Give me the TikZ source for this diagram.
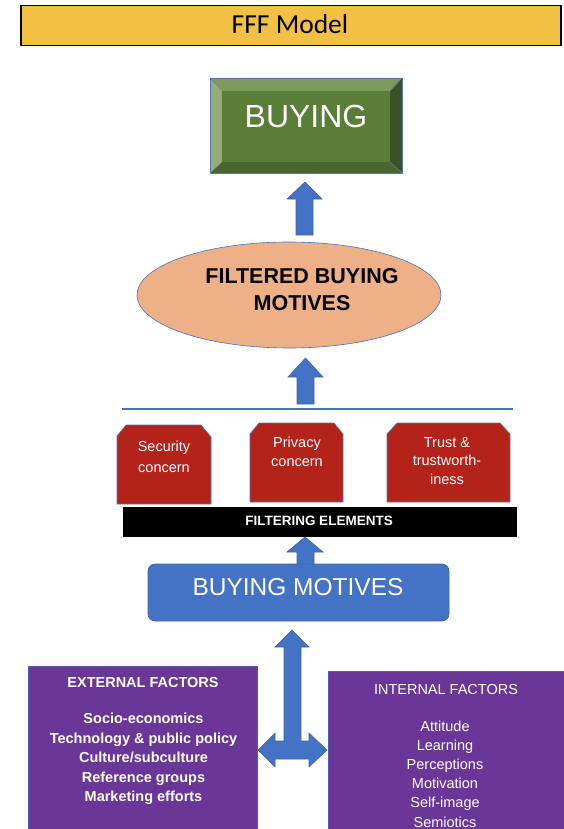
\documentclass[tikz,border=0pt]{standalone}
\usepackage{fontspec}
\setmainfont{Liberation Sans}
\newfontfamily\titlefont{Carlito}
\usetikzlibrary{shapes.geometric}
\definecolor{titleyellow}{HTML}{F2C143}
\definecolor{gmid}{HTML}{5A7D38}
\definecolor{gtop}{HTML}{7C9A5C}
\definecolor{gleft}{HTML}{93AD79}
\definecolor{gright}{HTML}{3A5225}
\definecolor{gbot}{HTML}{4A6630}
\definecolor{peach}{HTML}{EDB087}
\definecolor{officeblue}{HTML}{4472C4}
\definecolor{blueedge}{HTML}{3F64AA}
\definecolor{redbox}{HTML}{B3231A}
\definecolor{purplebox}{HTML}{6A3698}
\tikzset{
  blockarrow/.style={fill=officeblue, draw=blueedge, line width=0.6pt, line join=miter},
  filterbox/.style={fill=redbox, draw=officeblue!70!gray, line width=0.6pt},
  redtext/.style={text=white, align=center, font=\fontsize{14.5}{18.5}\selectfont},
  factoredge/.style={draw=officeblue!60!purplebox, line width=0.6pt},
  factortext/.style={text=white, align=center, font=\fontsize{14.5}{19.5}\selectfont},
}
\begin{document}
\begin{tikzpicture}[x=1pt,y=-1pt]
\useasboundingbox (0,0) rectangle (563,829);
% title
\node[draw=black, line width=1.5pt, fill=titleyellow, minimum width=540pt, minimum height=40pt, inner sep=0pt] (title) at (291,25.5) {};
\node[font=\titlefont\fontsize{27.5}{30}\selectfont] (titletext) at (290,24) {FFF Model};
% BUYING bevel box
\coordinate (bo1) at (210,78); \coordinate (bo2) at (402,78);
\coordinate (bo3) at (402,173); \coordinate (bo4) at (210,173);
\coordinate (bi1) at (222,91); \coordinate (bi2) at (390,91);
\coordinate (bi3) at (390,162); \coordinate (bi4) at (222,162);
\fill[gtop] (bo1) -- (bo2) -- (bi2) -- (bi1) -- cycle;
\fill[gright] (bo2) -- (bo3) -- (bi3) -- (bi2) -- cycle;
\fill[gbot] (bo3) -- (bo4) -- (bi4) -- (bi3) -- cycle;
\fill[gleft] (bo4) -- (bo1) -- (bi1) -- (bi4) -- cycle;
\fill[gmid] (bi1) rectangle (bi3);
\draw[officeblue!70!gray, line width=0.5pt] (bo1) rectangle (bo3);
\draw[officeblue!50!gray, line width=0.4pt] (bo1) -- (bi1) (bo2) -- (bi2) (bo3) -- (bi3) (bo4) -- (bi4);
\node[text=white, font=\fontsize{32}{36}\selectfont] (buying) at (306,116) {BUYING};
% arrow 1
\draw[blockarrow] (305,182) -- (322,199) -- (313,199) -- (313,235) -- (296,235) -- (296,199) -- (287,199) -- cycle;
% ellipse
\node[ellipse, fill=peach, draw=officeblue, line width=0.6pt, minimum width=304pt, minimum height=106pt, inner sep=0pt] (fbm) at (289,295) {};
\node[align=center, font=\bfseries\fontsize{21.5}{27}\selectfont] (fbmtext) at (302,290) {FILTERED BUYING\\MOTIVES};
% arrow 2
\draw[blockarrow] (305.5,358) -- (323,377) -- (314,377) -- (314,404) -- (297,404) -- (297,377) -- (288,377) -- cycle;
% line
\draw[officeblue, line width=1.4pt] (122,409) -- (513,409);
% red boxes
\draw[filterbox] (117,504) -- (117,436) -- (126,425) -- (201,425) -- (211,437) -- (211,504) -- cycle;
\draw[filterbox] (250,502) -- (250,434) -- (259,423) -- (334,423) -- (343,434) -- (343,502) -- cycle;
\draw[filterbox] (387,502) -- (387,434) -- (397,423) -- (500,423) -- (510,434) -- (510,502) -- cycle;
\node[redtext, font=\fontsize{14.5}{21}\selectfont] (security) at (164,457) {Security\\concern};
\node[redtext] (privacy) at (297,452) {Privacy\\concern};
\node[redtext] (trust) at (447,461) {Trust \&\\trustworth-\\iness};
% filtering elements bar
\node[fill=black, minimum width=394pt, minimum height=30pt, inner sep=0pt] (bar) at (320,522) {};
\node[text=white, font=\bfseries\fontsize{13.5}{15}\selectfont] (bartext) at (319,521) {FILTERING ELEMENTS};
% arrow 3
\draw[blockarrow] (305,537) -- (323,552) -- (314,552) -- (314,565) -- (297,565) -- (297,552) -- (287,552) -- cycle;
% buying motives
\node[fill=officeblue, draw=blueedge, line width=0.6pt, rounded corners=7pt, minimum width=301pt, minimum height=57pt, inner sep=0pt] (bm) at (298.5,592.5) {};
\node[text=white, font=\fontsize{24.5}{28}\selectfont] (bmtext) at (298,587) {BUYING MOTIVES};
% factor boxes
\fill[purplebox] (28,666) rectangle (257,835);
\draw[factoredge] (28,835) -- (28,666) -- (257,666) -- (257,835);
\fill[purplebox] (328,671) rectangle (570,835);
\draw[factoredge] (328,835) -- (328,671) -- (570,671);
\node[text=white, font=\bfseries\fontsize{14.5}{18}\selectfont] (exthead) at (143,683) {EXTERNAL FACTORS};
\node[factortext, font=\bfseries\fontsize{14.5}{19.5}\selectfont] (extitems) at (143.5,759) {Socio-economics\\Technology \& public policy\\Culture/subculture\\Reference groups\\Marketing efforts};
\node[text=white, font=\fontsize{14.5}{18}\selectfont] (inthead) at (446,689) {INTERNAL FACTORS};
\node[factortext, font=\fontsize{14.5}{19.2}\selectfont] (intitems) at (445,774) {Attitude\\Learning\\Perceptions\\Motivation\\Self-image\\Semiotics};
% cross arrow
\draw[blockarrow] (292,630) -- (309,647) -- (301,647) -- (301,741) -- (309,741) -- (309,733) -- (327,750) -- (309,767) -- (309,759) -- (275,759) -- (275,767) -- (258,750) -- (275,733) -- (275,741) -- (284,741) -- (284,647) -- (275,647) -- cycle;
\end{tikzpicture}
\end{document}
